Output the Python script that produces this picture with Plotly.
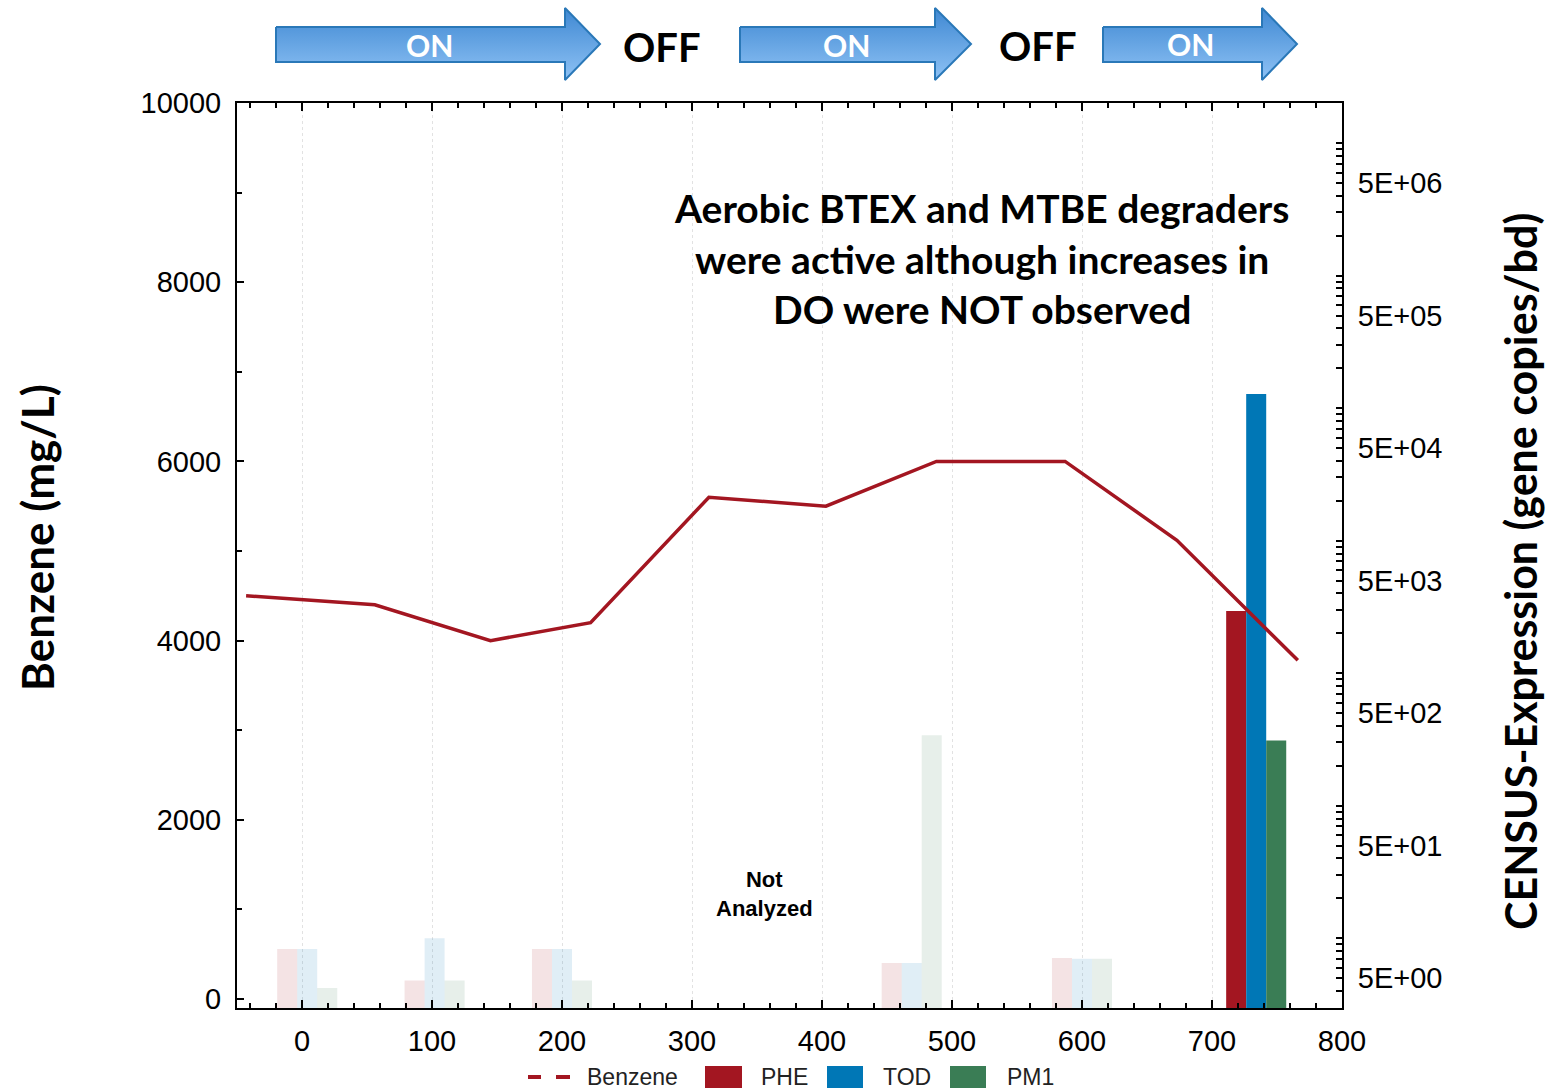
import plotly.graph_objects as go

# ---------------- data ----------------
benzene_days = [-43, 56, 145, 222, 313, 403, 488, 587, 673, 766]
benzene_mg_l = [4500, 4400, 4000, 4200, 5600, 5500, 6000, 6000, 5120, 3780]

sample_days = [4, 102, 200, 469, 600, 734]
phe_copies = [8.3, 4.8, 8.3, 6.5, 7.1, 2950]
tod_copies = [8.3, 10.0, 8.3, 6.5, 7.0, 128000]
pm1_copies = [4.2, 4.8, 4.8, 340, 7.0, 310]
analyzed_highlight = [False, False, False, False, False, True]

left_tick_values = [0, 2000, 4000, 6000, 8000, 10000]
x_tick_values = [0, 100, 200, 300, 400, 500, 600, 700, 800]
right_tick_values = [5, 50, 500, 5000, 50000, 500000, 5000000]
right_tick_labels = ["5E+00", "5E+01", "5E+02", "5E+03", "5E+04", "5E+05", "5E+06"]

# ---------------- styles ----------------
W, H = 1547, 1091
ML, MR, MT, MB = 237, 205, 5, 83
PLOT_TOP_PX = 103
RED, BLUE, GREEN = "#A31621", "#0077B6", "#3A7D55"
FADE_ALPHA = 0.12
TICK_FONT = dict(family="Liberation Sans, Arial, sans-serif", size=29, color="black")
BOLD_FONT = "Lato, Calibri, sans-serif"


def px_x(px):
    return (px - ML) / (W - ML - MR)


def px_y(py):
    return (H - MB - py) / (H - MT - MB)


def rgba(hex_color, a):
    h = hex_color.lstrip("#")
    r, g, b = int(h[0:2], 16), int(h[2:4], 16), int(h[4:6], 16)
    return f"rgba({r},{g},{b},{a})"


def colors_for(base):
    return [base if hl else rgba(base, FADE_ALPHA) for hl in analyzed_highlight]


# log-axis tick positions: every 1..9 x 10^n, labelled only at the 5E+ values
label_lookup = dict(zip(right_tick_values, right_tick_labels))
log_tick_pos, log_tick_txt = [], []
for n in range(0, 8):
    for k in range(1, 10):
        v = k * 10 ** n
        if 2.9 <= v <= 2.0e7:
            log_tick_pos.append(v)
            log_tick_txt.append(label_lookup.get(v, ""))

fig = go.Figure()

BAR_W = 15.4
for name, vals, col, off in [("PHE", phe_copies, RED, -1.5 * BAR_W),
                             ("TOD", tod_copies, BLUE, -0.5 * BAR_W),
                             ("PM1", pm1_copies, GREEN, 0.5 * BAR_W)]:
    fig.add_trace(go.Bar(
        x=sample_days, y=vals, width=BAR_W, offset=off, name=name,
        marker=dict(color=colors_for(col), line=dict(width=0)),
        xaxis="x", yaxis="y", showlegend=False,
    ))

fig.add_trace(go.Scatter(
    x=benzene_days, y=benzene_mg_l, mode="lines", name="Benzene",
    line=dict(color=RED, width=3.5), xaxis="x", yaxis="y2", showlegend=False,
))

# ---------------- top ON/OFF arrows ----------------
arrows = [(276, 565, 600), (740, 935, 971), (1103, 1262, 1297)]
for x0, neck, tip in arrows:
    xs = [x0, neck, neck, tip, neck, neck, x0, x0]
    ys = [27, 27, 8, 44, 80, 62, 62, 27]
    fig.add_trace(go.Scatter(
        x=xs, y=ys, mode="lines", fill="toself",
        fillgradient=dict(type="vertical",
                          colorscale=[[0, "#8EC2F5"], [1, "#3F88D2"]]),
        line=dict(color="#2A78B8", width=2),
        xaxis="x3", yaxis="y3", showlegend=False, hoverinfo="skip",
    ))

main_top = px_y(PLOT_TOP_PX)
fig.update_layout(
    width=W, height=H,
    margin=dict(l=ML, r=MR, t=MT, b=MB, autoexpand=False),
    plot_bgcolor="white", paper_bgcolor="white",
    barmode="overlay",
    xaxis=dict(
        range=[-50, 800], tickvals=x_tick_values, ticks="inside", ticklen=8,
        tickwidth=1.5, tickcolor="black", showline=True, linecolor="black",
        linewidth=2, mirror="ticks", tickfont=TICK_FONT, ticklabelstandoff=6,
        showgrid=True, gridcolor="#E2E2E2", griddash="dot", gridwidth=1,
        minor=dict(dtick=20, ticks="inside", ticklen=5, tickcolor="black",
                   showgrid=False),
        zeroline=False, anchor="y", automargin=False,
    ),
    yaxis=dict(
        type="log", side="right", range=[0.473, 7.303], domain=[0, main_top],
        tickmode="array", tickvals=log_tick_pos, ticktext=log_tick_txt,
        ticks="inside", ticklen=6, tickwidth=1.5, tickcolor="black",
        showline=True, linecolor="black", linewidth=2, showgrid=False,
        tickfont=TICK_FONT, ticklabelstandoff=8, zeroline=False, anchor="x",
        automargin=False,
    ),
    yaxis2=dict(
        overlaying="y", side="left", range=[-100, 10000],
        tickvals=left_tick_values, tickformat="d",
        ticks="inside", ticklen=7, tickwidth=1.5, tickcolor="black",
        minor=dict(dtick=1000, ticks="inside", ticklen=5, tickcolor="black",
                   showgrid=False),
        showline=True, linecolor="black", linewidth=2, showgrid=False,
        tickfont=TICK_FONT, ticklabelstandoff=8, zeroline=False, anchor="x",
        automargin=False,
    ),
    xaxis3=dict(domain=[0, 1], range=[ML, W - MR], visible=False,
                anchor="y3", fixedrange=True, automargin=False),
    yaxis3=dict(domain=[px_y(95), 1], range=[95, 5], visible=False,
                anchor="x3", fixedrange=True, automargin=False),
)


def note(x, y, text, size, family, color="black", angle=0, xanchor="center",
         xref="paper", yref="paper"):
    fig.add_annotation(x=x, y=y, xref=xref, yref=yref, text=text, showarrow=False,
                       xanchor=xanchor, yanchor="middle", align="center",
                       textangle=angle,
                       font=dict(family=family, size=size, color=color))


# ON / OFF labels
for x, y in [(429, 45), (846, 45), (1190, 44)]:
    note(x, y, "<b>ON</b>", 30, BOLD_FONT, "white", xref="x3", yref="y3")
for x, y in [(662, 47), (1038, 46)]:
    note(x, y, "<b>OFF</b>", 40, BOLD_FONT, "black", xref="x3", yref="y3")

# Main note
note(px_x(981), px_y(258),
     "<b>Aerobic BTEX and MTBE degraders<br>were active although increases in<br>DO were NOT observed</b>",
     39, BOLD_FONT)
note(px_x(764), px_y(894), "<b>Not<br>Analyzed</b>", 22,
     "Liberation Sans, Arial, sans-serif")

# Axis titles
note(px_x(37), px_y(538), "<b>Benzene (mg/L)</b>", 44, BOLD_FONT, angle=-90)
note(px_x(1520), px_y(572), "<b>CENSUS-Expression (gene copies/bd)</b>", 43,
     BOLD_FONT, angle=-90)

# Custom legend
LEG_Y = 1077
for a, b in [(528, 541), (556, 570)]:
    fig.add_shape(type="line", xref="paper", yref="paper",
                  x0=px_x(a), x1=px_x(b), y0=px_y(LEG_Y), y1=px_y(LEG_Y),
                  line=dict(color=RED, width=4))
for x0, x1, col in [(705, 742, RED), (827, 863, BLUE), (950, 986, GREEN)]:
    fig.add_shape(type="rect", xref="paper", yref="paper",
                  x0=px_x(x0), x1=px_x(x1), y0=px_y(LEG_Y + 11), y1=px_y(LEG_Y - 11),
                  fillcolor=col, line=dict(width=0))
for x, label in [(585, "Benzene"), (759, "PHE"), (881, "TOD"), (1005, "PM1")]:
    note(px_x(x), px_y(LEG_Y), label, 23, "Liberation Sans, Arial, sans-serif",
         "#222222", xanchor="left")

fig.write_html("out.html", config={"displayModeBar": False},
               post_script="document.body.style.margin='0';")
